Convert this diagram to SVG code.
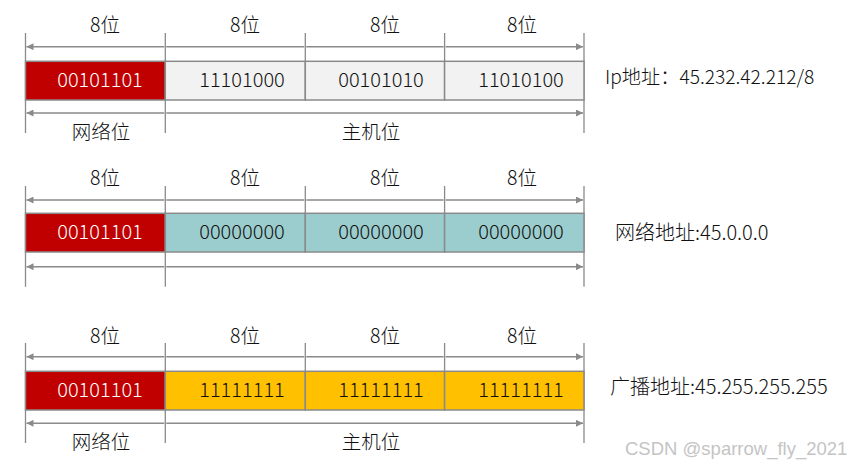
<svg xmlns="http://www.w3.org/2000/svg" width="866" height="470" viewBox="0 0 866 470">
<defs>
<style>
.t{font-family:"Noto Sans CJK SC","Liberation Sans",sans-serif;font-size:19.5px;font-weight:300;fill:#111111;text-anchor:middle}
.d{font-size:20px}
.w{fill:#ffffff}
.lbl{font-family:"Noto Sans CJK SC","Liberation Sans",sans-serif;font-size:20px;font-weight:300;fill:#111111}
.lbl1{font-size:19.2px}
.v{stroke:#8a8a8a;stroke-width:1.3;fill:none}
.a{stroke:#8a8a8a;stroke-width:1.5;fill:none;marker-start:url(#ah);marker-end:url(#ah)}
.box{stroke:#8a8a8a;stroke-width:1.5}
</style>
<marker id="ah" viewBox="0 0 10 10" refX="10" refY="5" markerWidth="9" markerHeight="7" markerUnits="userSpaceOnUse" orient="auto-start-reverse">
<path d="M0,0 L10,5 L0,10 z" fill="#8a8a8a"/>
</marker>
</defs>
<rect width="866" height="470" fill="#ffffff"/>

<g id="connectors">
<!-- row 1 -->
<path class="v" d="M25.5,33V133M165.3,33V133M305.3,33V100M444.6,33V100M584,33V133"/>
<path class="a" d="M26.5,46.7H164.3M166.3,46.7H304.3M306.3,46.7H443.6M445.6,46.7H583"/>
<path class="a" d="M26.5,113H164.3M166.3,113H583"/>
<!-- row 2 -->
<path class="v" d="M25.5,186V286.7M165.3,186V286.7M305.3,186V252M444.6,186V252M584,186V286.7"/>
<path class="a" d="M26.5,200H164.3M166.3,200H304.3M306.3,200H443.6M445.6,200H583"/>
<path class="a" d="M26.5,266.7H164.3M166.3,266.7H583"/>
<!-- row 3 -->
<path class="v" d="M25.5,343V443M165.3,343V443M305.3,343V410M444.6,343V410M584,343V443"/>
<path class="a" d="M26.5,356.7H164.3M166.3,356.7H304.3M306.3,356.7H443.6M445.6,356.7H583"/>
<path class="a" d="M26.5,423.3H164.3M166.3,423.3H583"/>
</g>

<g id="row1">
<rect class="box" x="25.5" y="61.3" width="139.8" height="38.7" fill="#C00000"/>
<rect class="box" x="165.3" y="61.3" width="140" height="38.7" fill="#F2F2F2"/>
<rect class="box" x="305.3" y="61.3" width="139.3" height="38.7" fill="#F2F2F2"/>
<rect class="box" x="444.6" y="61.3" width="139.4" height="38.7" fill="#F2F2F2"/>
<text class="t" x="105" y="32">8位</text>
<text class="t" x="245" y="32">8位</text>
<text class="t" x="385" y="32">8位</text>
<text class="t" x="522" y="32">8位</text>
<text class="t d w" x="100" y="87.3">00101101</text>
<text class="t d" x="242" y="87.3">11101000</text>
<text class="t d" x="381" y="87.3">00101010</text>
<text class="t d" x="521" y="87.3">11010100</text>
<text class="t" x="101" y="138.5">网络位</text>
<text class="t" x="371" y="138.5">主机位</text>
<text class="lbl lbl1" x="605" y="83.5">Ip地址：45.232.42.212/8</text>
</g>

<g id="row2">
<rect class="box" x="25.5" y="213.3" width="139.8" height="38.7" fill="#C00000"/>
<rect class="box" x="165.3" y="213.3" width="140" height="38.7" fill="#9BCDCE"/>
<rect class="box" x="305.3" y="213.3" width="139.3" height="38.7" fill="#9BCDCE"/>
<rect class="box" x="444.6" y="213.3" width="139.4" height="38.7" fill="#9BCDCE"/>
<text class="t" x="105" y="185">8位</text>
<text class="t" x="245" y="185">8位</text>
<text class="t" x="385" y="185">8位</text>
<text class="t" x="522" y="185">8位</text>
<text class="t d w" x="100" y="239">00101101</text>
<text class="t d" x="242" y="239">00000000</text>
<text class="t d" x="381" y="239">00000000</text>
<text class="t d" x="521" y="239">00000000</text>
<text class="lbl" x="615" y="240.3">网络地址:45.0.0.0</text>
</g>

<g id="row3">
<rect class="box" x="25.5" y="371.3" width="139.8" height="38.7" fill="#C00000"/>
<rect class="box" x="165.3" y="371.3" width="140" height="38.7" fill="#FFC000"/>
<rect class="box" x="305.3" y="371.3" width="139.3" height="38.7" fill="#FFC000"/>
<rect class="box" x="444.6" y="371.3" width="139.4" height="38.7" fill="#FFC000"/>
<text class="t" x="105" y="343">8位</text>
<text class="t" x="245" y="343">8位</text>
<text class="t" x="385" y="343">8位</text>
<text class="t" x="522" y="343">8位</text>
<text class="t d w" x="100" y="397.3">00101101</text>
<text class="t d" x="242" y="397.3">11111111</text>
<text class="t d" x="381" y="397.3">11111111</text>
<text class="t d" x="521" y="397.3">11111111</text>
<text class="t" x="101" y="448.7">网络位</text>
<text class="t" x="371" y="448.7">主机位</text>
<text class="lbl" x="610" y="394">广播地址:45.255.255.255</text>
</g>

<text x="625" y="454.5" font-family="Liberation Sans, Arial, sans-serif" font-size="18.5" fill="#c4c4c4">CSDN @sparrow_fly_2021</text>
</svg>
